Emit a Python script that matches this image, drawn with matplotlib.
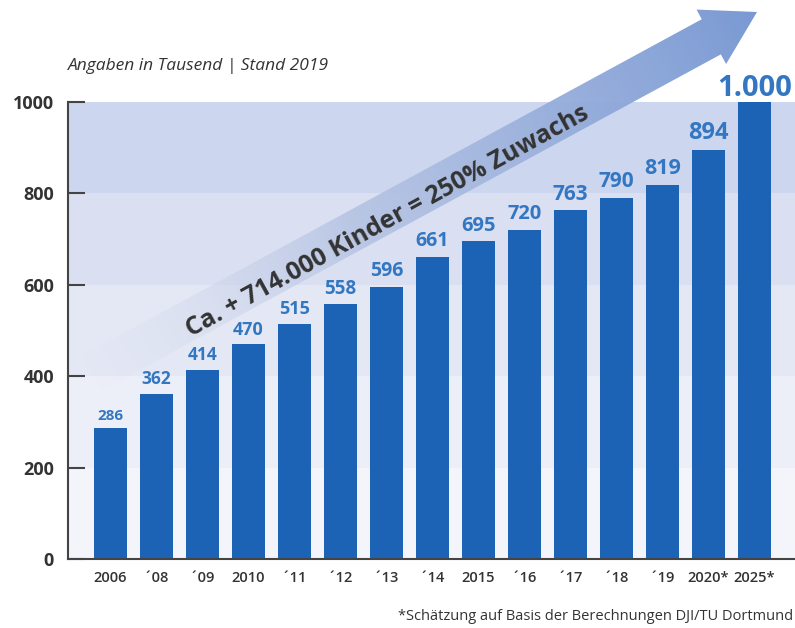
import numpy as np
import matplotlib
matplotlib.use("Agg")
import matplotlib.pyplot as plt
from matplotlib.patches import Polygon

years = ["2006", "´08", "´09", "2010", "´11", "´12", "´13", "´14",
         "2015", "´16", "´17", "´18", "´19", "2020*", "2025*"]
kinder = [286, 362, 414, 470, 515, 558, 596, 661, 695, 720, 763, 790, 819, 894, 1000]
value_labels = ["286", "362", "414", "470", "515", "558", "596", "661",
                "695", "720", "763", "790", "819", "894", "1.000"]
label_sizes = [11, 12.5, 12.5, 13, 13, 13.5, 14, 14, 14.5, 14.5, 15, 15, 15.5, 17, 21]
label_gap = [12, 12, 12, 12, 12, 12, 12, 12, 12, 12, 12, 12, 12, 12, -3]

bar_color = "#1d63b5"
label_color = "#3377c2"
dark = "#333333"

plt.rcParams["font.family"] = ["Open Sans", "DejaVu Sans"]

W, H = 795, 628
fig = plt.figure(figsize=(W / 100, H / 100), dpi=100)
fig.patch.set_facecolor("white")

ax = fig.add_axes([68 / W, (H - 559) / H, 1 - 68 / W, (559 - 102) / H])

# horizontal background bands, darker towards the top
band_colors = ["#f4f5fb", "#eceff8", "#e4e8f5", "#dae0f1", "#ccd6ee"]
for i, c in enumerate(band_colors):
    ax.axhspan(i * 200, (i + 1) * 200, color=c, zorder=0, lw=0)

x = np.arange(len(years))
ax.bar(x, kinder, width=0.72, color=bar_color, zorder=2)

for xi, v, lab, fs, g in zip(x, kinder, value_labels, label_sizes, label_gap):
    ax.text(xi, v + g, lab, ha="center", va="bottom", fontsize=fs,
            fontweight="bold", color=label_color, clip_on=False, zorder=4)

ax.set_xlim(-0.92, 14.88)
ax.set_ylim(0, 1000)
ax.set_yticks([0, 200, 400, 600, 800, 1000])
ax.set_xticks(x)
ax.set_xticklabels(years)

for s in ["top", "right"]:
    ax.spines[s].set_visible(False)
for s in ["left", "bottom"]:
    ax.spines[s].set_color("#444444")
    ax.spines[s].set_linewidth(1.5)
    ax.spines[s].set_zorder(5)

ax.tick_params(axis="y", direction="in", length=12, width=1.5, color="#444444",
               labelsize=13, labelcolor=dark, pad=10)
ax.tick_params(axis="x", length=0, labelsize=10.5, labelcolor=dark, pad=9)
for t in ax.get_yticklabels():
    t.set_fontweight("bold")
for t in ax.get_xticklabels():
    t.set_fontweight("semibold")

# overlay in pixel coordinates for the gradient arrow
ov = fig.add_axes([0, 0, 1, 1], zorder=3)
ov.set_xlim(0, W)
ov.set_ylim(H, 0)
ov.axis("off")
ov.patch.set_alpha(0)

theta = np.deg2rad(28.5)
u = np.array([np.cos(theta), -np.sin(theta)])
n = np.array([np.sin(theta), np.cos(theta)])
tip = np.array([757.0, 12.0])
head_len = 52
base = tip - head_len * u
tail = tip - (757 - 90) / np.cos(theta) * u
w, h = 20, 31
pts = [tail - w * n, base - w * n, base - h * n, tip,
       base + h * n, base + w * n, tail + w * n]

gx, gy = np.meshgrid(np.arange(W) + 0.5, np.arange(H) + 0.5)
total = np.dot(tip - tail, u)
t = ((gx - tail[0]) * u[0] + (gy - tail[1]) * u[1]) / total
t = np.clip(t, 0, 1)
c0 = np.array([0.84, 0.86, 0.93])
c1 = np.array([0.45, 0.58, 0.82])
img = np.zeros((H, W, 4))
for k in range(3):
    img[..., k] = c0[k] + (c1[k] - c0[k]) * t ** 1.3
img[..., 3] = np.clip(t * 2.5, 0, 1) * 0.95
im = ov.imshow(img, extent=(0, W, H, 0), interpolation="bilinear")
clip = Polygon(pts, closed=True, transform=ov.transData, facecolor="none", edgecolor="none")
ov.add_patch(clip)
im.set_clip_path(clip)

ov.text(388, 222, "Ca. + 714.000 Kinder = 250% Zuwachs", rotation=28.8,
        rotation_mode="anchor", ha="center", va="center", fontsize=18,
        fontweight="bold", color=dark)

fig.text(68 / W, 1 - 66 / H, "Angaben in Tausend | Stand 2019", fontsize=12.5,
         style="italic", color=dark, ha="left", va="center")
fig.text(793 / W, 1 - 616 / H, "*Schätzung auf Basis der Berechnungen DJI/TU Dortmund",
         fontsize=10.5, color=dark, ha="right", va="center")

fig.savefig("out.png", dpi=100)
